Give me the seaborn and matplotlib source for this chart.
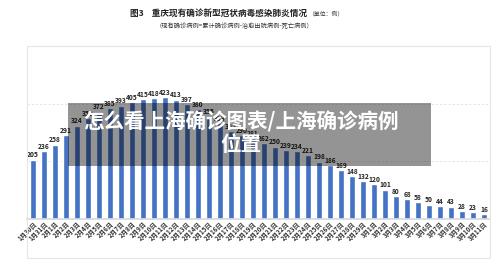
import pandas as pd
import seaborn as sns
import matplotlib.pyplot as plt
from matplotlib.patches import Rectangle

# data
dates = ["1月30日", "1月31日"] + [f"2月{d}日" for d in range(1, 30)] + [f"3月{d}日" for d in range(1, 12)]
cases = [205, 236, 258, 291, 324, 350, 372, 385, 393, 405, 415, 418, 423, 413,
         397, 380, 355, 333, 305, 290, 281, 262, 250, 239, 234, 221, 198, 186,
         169, 148, 132, 120, 101, 80, 68, 58, 50, 44, 43, 28, 23, 16]

title = "图3    重庆现有确诊新型冠状病毒感染肺炎情况"
unit = "（单位：例）"
subtitle = "（现有确诊病例=累计确诊病例-治愈出院病例-死亡病例）"
overlay_1 = "怎么看上海确诊图表/上海确诊病例"
overlay_2 = "位置"

df = pd.DataFrame({"date": dates, "cases": cases})

sns.set_theme(style="white")
plt.rcParams['font.family'] = ['Noto Sans CJK SC', 'DejaVu Sans']

fig = plt.figure(figsize=(5, 2.7), dpi=100)
ax = fig.add_axes([0.054, 0.189, 0.926, 0.641])

# chart frame
fig.patches.append(Rectangle((0.054, 0.045), 0.926, 0.785, transform=fig.transFigure,
                             fill=False, edgecolor="#e6e6e6", linewidth=0.8))

sns.barplot(data=df, x="date", y="cases", color="#4472C4", width=0.55,
            saturation=1, ax=ax)
ax.bar_label(ax.containers[0], fontsize=4.8, fontweight="bold", padding=1, color="#222222")

ax.set_ylim(0, 600)
ax.set_xlim(-0.55, len(dates) - 0.45)
for y in (200, 400):
    ax.axhline(y, color="#e3e3e3", linewidth=0.6, linestyle=(0, (3, 2)), zorder=0)
ax.set_yticks([])
ax.set_xlabel("")
ax.set_ylabel("")
for s in ["top", "right", "left"]:
    ax.spines[s].set_visible(False)
ax.spines["bottom"].set_color("#d9d9d9")
ax.tick_params(axis="x", length=0, pad=1)
plt.setp(ax.get_xticklabels(), rotation=45, ha="right", rotation_mode="anchor",
         fontsize=4.5, fontweight="bold", color="#333333")

fig.text(0.26, 0.952, title, fontsize=6.2, fontweight="bold", color="#222222", va="center")
fig.text(0.618, 0.950, unit, fontsize=4.2, color="#333333", va="center")
fig.text(0.312, 0.903, subtitle, fontsize=4.5, color="#333333", va="center")

# grey caption banner laid over the chart
fig.patches.append(Rectangle((0.136, 0.385), 0.726, 0.233, transform=fig.transFigure,
                             facecolor="black", alpha=0.42, edgecolor="none", zorder=5))
fig.text(0.482, 0.548, overlay_1, fontsize=14.8, fontweight="bold", color="white",
         ha="center", va="center", zorder=6)
fig.text(0.482, 0.463, overlay_2, fontsize=14.8, fontweight="bold", color="white",
         ha="center", va="center", zorder=6)

fig.savefig("out.png", dpi=100, facecolor="white")
